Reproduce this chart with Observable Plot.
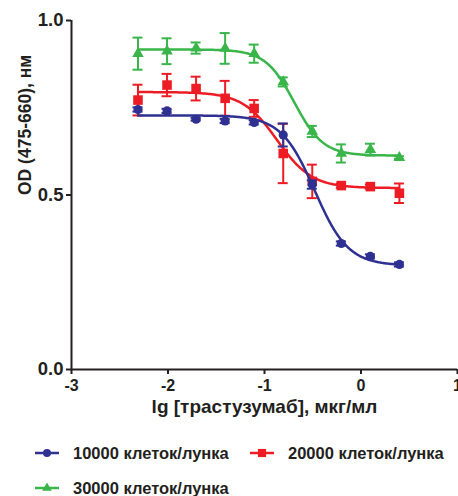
<!DOCTYPE html>
<html>
<head>
<meta charset="utf-8">
<script src="https://cdn.jsdelivr.net/npm/d3@7"></script>
<script src="https://cdn.jsdelivr.net/npm/@observablehq/plot@0.6"></script>
<style>
  html, body { margin: 0; padding: 0; background: #fff; }
  #chart { position: relative; width: 458px; }
  .legend { position: relative; width: 458px; height: 66px; font-family: "Liberation Sans", Arial, sans-serif; font-weight: bold; font-size: 16.5px; color: #231f20; }
  .item { position: absolute; display: flex; align-items: center; height: 20px; white-space: nowrap; }
  .item svg { margin-right: 14px; }
</style>
</head>
<body>
<div id="chart"></div>
<script>
// log10 concentration of trastuzumab, µg/ml
const logConc = [-2.311, -2.010, -1.709, -1.408, -1.107, -0.806, -0.505, -0.204, 0.097, 0.398];

const seriesNames = ["10000 клеток/лунка", "20000 клеток/лунка", "30000 клеток/лунка"];
const seriesColors = ["#2e3192", "#ed1c24", "#39b54a"];
const seriesSymbols = ["circle", "square", "triangle"];

const od10000 = [0.745, 0.741, 0.717, 0.712, 0.708, 0.672, 0.530, 0.361, 0.324, 0.301];
const err10000 = [0.006, 0.006, 0.004, 0.006, 0.006, 0.033, 0.012, 0.006, 0.006, 0.006];
const od20000 = [0.772, 0.815, 0.805, 0.777, 0.748, 0.619, 0.539, 0.527, 0.524, 0.505];
const err20000 = [0.044, 0.032, 0.034, 0.050, 0.024, 0.085, 0.048, 0.006, 0.006, 0.028];
const od30000 = [0.905, 0.912, 0.921, 0.920, 0.905, 0.824, 0.682, 0.619, 0.630, 0.607];
const err30000 = [0.046, 0.037, 0.016, 0.044, 0.026, 0.013, 0.016, 0.026, 0.017, 0.004];

// four-parameter logistic fit parameters
const fitTop = [0.728, 0.795, 0.917];
const fitBottom = [0.298, 0.520, 0.613];
const fitLogEC50 = [-0.48, -0.87, -0.69];
const fitHill = [2.5, 2.4, 2.9];

const xTicks = [-3, -2, -1, 0, 1];
const yTicks = [0, 0.5, 1.0];

const odValues = [od10000, od20000, od30000];
const errValues = [err10000, err20000, err30000];

const points = odValues.map((vals, s) => vals.map((v, i) => ({x: logConc[i], y: v, e: errValues[s][i]})));
const xs = d3.range(logConc[0], logConc[logConc.length - 1] + 1e-9, 0.01);
const curves = fitTop.map((top, s) => xs.map(x => ({x, y: fitBottom[s] + (top - fitBottom[s]) / (1 + Math.pow(10, (x - fitLogEC50[s]) * fitHill[s]))})));

const font = "Liberation Sans, Arial, sans-serif";
const ink = "#231f20";
const dotR = [4.6, 5.4, 4.3];

const marks = [];
[2, 1, 0].forEach(s => {
  marks.push(Plot.ruleX(points[s], {x: "x", y1: d => d.y - d.e, y2: d => d.y + d.e, stroke: seriesColors[s], strokeWidth: 2}));
  marks.push(Plot.ruleY(points[s], {y: d => d.y + d.e, x1: "x", x2: "x", insetLeft: -5, insetRight: -5, stroke: seriesColors[s], strokeWidth: 2}));
  marks.push(Plot.ruleY(points[s], {y: d => d.y - d.e, x1: "x", x2: "x", insetLeft: -5, insetRight: -5, stroke: seriesColors[s], strokeWidth: 2}));
  marks.push(Plot.line(curves[s], {x: "x", y: "y", stroke: seriesColors[s], strokeWidth: 2.5}));
  marks.push(Plot.dot(points[s], {x: "x", y: "y", symbol: seriesSymbols[s], r: dotR[s], fill: seriesColors[s], stroke: "none"}));
});

const chart = Plot.plot({
  width: 458,
  height: 430,
  marginLeft: 71,
  marginRight: 1,
  marginTop: 20,
  marginBottom: 61,
  style: {fontFamily: font, background: "#fff", overflow: "visible"},
  x: {domain: [-3, 1]},
  y: {domain: [0, 1]},
  marks: [
    Plot.axisX({ticks: xTicks, tickSize: 5, tickPadding: 5, tickFormat: d => d3.format("d")(d).replace("−", "-"), fontSize: 16, fontWeight: "bold", fill: ink, stroke: ink, strokeWidth: 2, label: null}),
    Plot.axisY({ticks: yTicks, tickSize: 5, tickPadding: 3, tickFormat: d => d.toFixed(1), fontSize: 18.5, fontWeight: "bold", fill: ink, stroke: ink, strokeWidth: 2, label: null}),
    Plot.ruleX([-3], {y1: 0, y2: 1, stroke: ink, strokeWidth: 2}),
    Plot.ruleY([0], {x1: -3, x2: 1, stroke: ink, strokeWidth: 2}),
    Plot.text(["lg [трастузумаб], мкг/мл"], {frameAnchor: "bottom", dy: 43, fontSize: 19, fontWeight: "bold", fill: ink}),
    Plot.text(["OD (475-660), нм"], {frameAnchor: "left", dx: -46, rotate: -90, fontSize: 17.5, fontWeight: "bold", fill: ink}),
    ...marks
  ]
});
document.getElementById("chart").appendChild(chart);

// legend below the plot
const legend = document.createElement("div");
legend.className = "legend";
const legendPos = [{left: 35, top: 13}, {left: 250, top: 13}, {left: 35, top: 48}];
seriesNames.forEach((name, s) => {
  const item = document.createElement("div");
  item.className = "item";
  item.style.left = legendPos[s].left + "px";
  item.style.top = legendPos[s].top + "px";
  const sw = d3.create("svg").attr("width", 24).attr("height", 20);
  sw.append("line").attr("x1", 0).attr("x2", 24).attr("y1", 10).attr("y2", 10).attr("stroke", seriesColors[s]).attr("stroke-width", 2.5);
  const symType = [d3.symbolCircle, d3.symbolSquare, d3.symbolTriangle][s];
  sw.append("path").attr("transform", "translate(12,10)").attr("d", d3.symbol(symType, Math.PI * [4, 4.6, 3.6][s] ** 2)()).attr("fill", seriesColors[s]);
  item.appendChild(sw.node());
  const t = document.createElement("span");
  t.textContent = name;
  item.appendChild(t);
  legend.appendChild(item);
});
document.getElementById("chart").appendChild(legend);
</script>
</body>
</html>
